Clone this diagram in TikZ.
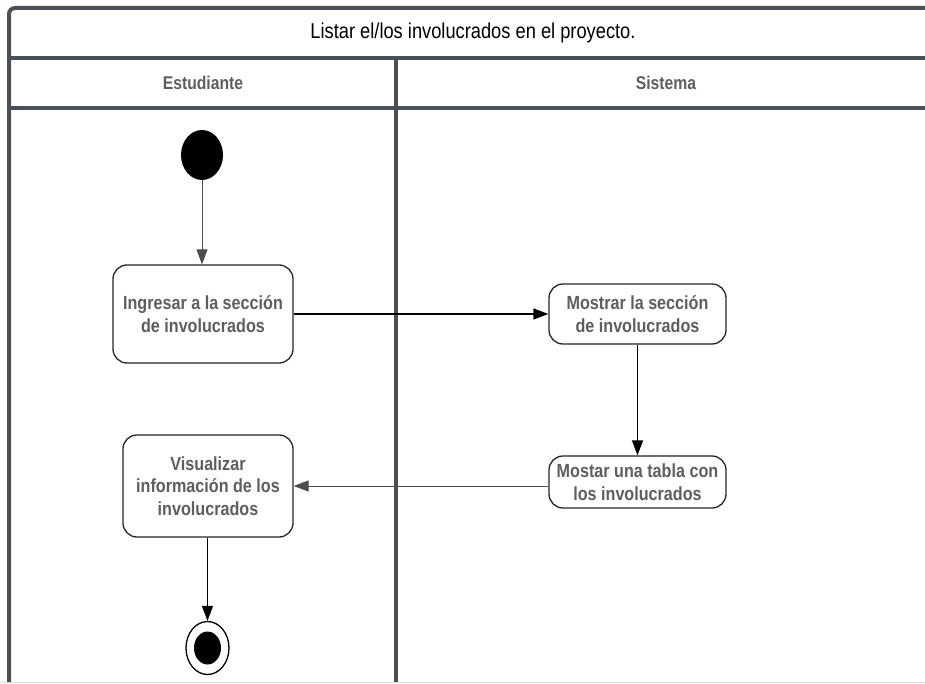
\documentclass[tikz,border=0pt]{standalone}
\usepackage{fontspec}
\setmainfont{Liberation Sans}[FakeStretch=0.85]
\usetikzlibrary{arrows.meta,shapes.geometric}
\definecolor{lanegray}{HTML}{4B5058}
\definecolor{labelgray}{HTML}{5E5E5E}
\begin{document}
\begin{tikzpicture}[x=1pt,y=-1pt,
  lane/.style={draw=lanegray,line width=4pt},
  action/.style={draw=black!85,line width=1.3pt,rounded corners=14pt,fill=white,
    align=center,font=\fontsize{19}{22.5}\selectfont\bfseries,text=labelgray,inner sep=0pt},
  flow/.style={draw=black,line width=1.3pt,-{Triangle[length=15pt,width=11pt]}},
  thinflow/.style={draw=black!70,line width=0.9pt,-{Triangle[length=15pt,width=11pt]}},
  header/.style={font=\fontsize{18.5}{22}\selectfont\bfseries,text=labelgray}]
\useasboundingbox (0,0) rectangle (925,684);
\fill[white] (0,0) rectangle (925,684);

% swimlane frame
\draw[black!12,line width=0.8pt] (0,682.5) -- (925,682.5);
\draw[lane,rounded corners=6pt] (9,682) -- (9,8) -- (940,8);
\draw[lane] (9,58) -- (940,58);
\draw[lane] (9,108.5) -- (940,108.5);
\draw[lane] (395.5,58) -- (395.5,682);

% titles
\node[font=\fontsize{21.5}{24}\selectfont] (title) at (473,33) {Listar el/los involucrados en el proyecto.};
\node[header] (h1) at (203,83) {Estudiante};
\node[header] (h2) at (666,83) {Sistema};

% activity nodes
\node[ellipse,fill=black,minimum width=42pt,minimum height=50pt,inner sep=0pt] (start) at (202,155) {};
\node[action,minimum width=180pt,minimum height=98pt] (a1) at (203,314) {Ingresar a la sección\\de involucrados};
\node[action,minimum width=177pt,minimum height=60pt] (a2) at (637.5,314) {Mostrar la sección\\de involucrados};
\node[action,minimum width=177pt,minimum height=52pt] (a3) at (637.5,482) {Mostar una tabla con\\los involucrados};
\node[action,minimum width=170pt,minimum height=102pt] (a4) at (208,486) {Visualizar\\información de los\\involucrados};
\node[ellipse,draw=black,line width=1.3pt,fill=white,minimum width=43pt,minimum height=53pt,inner sep=0pt] (stop) at (207.5,648) {};
\node[ellipse,fill=black,minimum width=27pt,minimum height=33pt,inner sep=0pt] (stopdot) at (stop.center) {};

% control flow
\draw[thinflow] (start.south) -- (a1.north -| start.south);
\draw[flow] (a1.east) -- (a2.west);
\draw[flow] (a2.south) -- (a3.north);
\draw[thinflow] (a3.west |- a4.east) -- (a4.east);
\draw[flow] (a4.south -| stop.north) -- (stop.north);
\end{tikzpicture}
\end{document}
